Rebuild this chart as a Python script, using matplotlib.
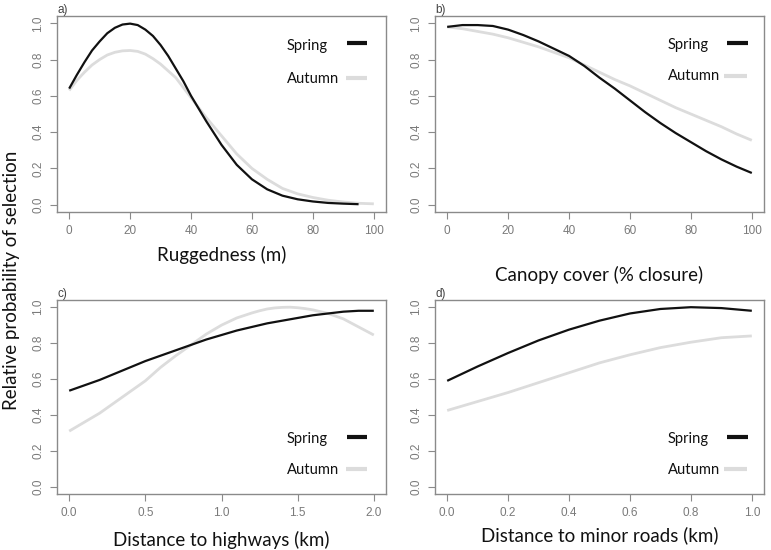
import matplotlib
matplotlib.use("Agg")
import matplotlib.pyplot as plt
from matplotlib.lines import Line2D

# ---------------- data ----------------
rug_x = [0, 2.5, 5, 7.5, 10, 12.5, 15, 17.5, 20, 22.5, 25, 27.5, 30, 32.5, 35, 37.5, 40,
         45, 50, 55, 60, 65, 70, 75, 80, 85, 90, 95]
rug_spring = [0.64, 0.715, 0.785, 0.85, 0.90, 0.945, 0.975, 0.993, 0.998, 0.99, 0.965, 0.93,
              0.88, 0.82, 0.75, 0.68, 0.60, 0.46, 0.33, 0.22, 0.14, 0.085, 0.05, 0.03,
              0.018, 0.01, 0.006, 0.003]
rug_x_aut = [0, 2.5, 5, 7.5, 10, 12.5, 15, 17.5, 20, 22.5, 25, 27.5, 30, 35, 40, 45, 50, 55,
             60, 65, 70, 75, 80, 85, 90, 95, 100]
rug_autumn = [0.63, 0.685, 0.73, 0.77, 0.80, 0.825, 0.84, 0.848, 0.85, 0.845, 0.83, 0.805,
              0.775, 0.70, 0.59, 0.48, 0.38, 0.28, 0.20, 0.14, 0.09, 0.06, 0.04, 0.025,
              0.015, 0.008, 0.005]

can_x = [0, 5, 10, 15, 20, 25, 30, 35, 40, 45, 50, 55, 60, 65, 70, 75, 80, 85, 90, 95, 100]
can_spring = [0.98, 0.99, 0.99, 0.985, 0.965, 0.935, 0.90, 0.86, 0.82, 0.765, 0.70, 0.64,
              0.575, 0.51, 0.45, 0.395, 0.345, 0.295, 0.25, 0.21, 0.175]
can_autumn = [0.98, 0.97, 0.955, 0.94, 0.92, 0.895, 0.87, 0.84, 0.81, 0.77, 0.73, 0.69,
              0.655, 0.615, 0.575, 0.535, 0.50, 0.465, 0.43, 0.39, 0.355]

hwy_x = [0.0, 0.1, 0.2, 0.3, 0.4, 0.5, 0.6, 0.7, 0.8, 0.9, 1.0, 1.1, 1.2, 1.3, 1.4, 1.5,
         1.6, 1.7, 1.8, 1.9, 2.0]
hwy_spring = [0.535, 0.565, 0.595, 0.63, 0.665, 0.70, 0.73, 0.76, 0.79, 0.82, 0.845, 0.87,
              0.89, 0.91, 0.925, 0.94, 0.955, 0.965, 0.975, 0.98, 0.98]
hwy_x_aut = [0.0, 0.1, 0.2, 0.3, 0.4, 0.5, 0.6, 0.7, 0.8, 0.9, 1.0, 1.1, 1.2, 1.25, 1.3,
             1.35, 1.4, 1.45, 1.5, 1.55, 1.6, 1.7, 1.8, 1.9, 2.0]
hwy_autumn = [0.31, 0.36, 0.41, 0.47, 0.53, 0.59, 0.665, 0.73, 0.79, 0.85, 0.90, 0.94,
              0.968, 0.98, 0.99, 0.996, 0.999, 1.0, 0.997, 0.992, 0.985, 0.965, 0.935,
              0.89, 0.845]

rd_x = [0.0, 0.1, 0.2, 0.3, 0.4, 0.5, 0.6, 0.7, 0.8, 0.9, 1.0]
rd_spring = [0.59, 0.67, 0.745, 0.815, 0.875, 0.925, 0.965, 0.99, 1.0, 0.995, 0.98]
rd_autumn = [0.425, 0.475, 0.525, 0.58, 0.635, 0.69, 0.735, 0.775, 0.805, 0.83, 0.84]

panel_labels = ["a)", "b)", "c)", "d)"]
xlabels = ["Ruggedness (m)", "Canopy cover (% closure)",
           "Distance to highways (km)", "Distance to minor roads (km)"]
xticks = [[0, 20, 40, 60, 80, 100], [0, 20, 40, 60, 80, 100],
          [0.0, 0.5, 1.0, 1.5, 2.0], [0.0, 0.2, 0.4, 0.6, 0.8, 1.0]]
xticklabels = [["0", "20", "40", "60", "80", "100"], ["0", "20", "40", "60", "80", "100"],
               ["0.0", "0.5", "1.0", "1.5", "2.0"], ["0.0", "0.2", "0.4", "0.6", "0.8", "1.0"]]
yticks = [0.0, 0.2, 0.4, 0.6, 0.8, 1.0]
yticklabels = ["0.0", "0.2", "0.4", "0.6", "0.8", "1.0"]
season_names = ["Spring", "Autumn"]

# ---------------- figure ----------------
W, H = 771, 550
fig = plt.figure(figsize=(W / 100, H / 100), dpi=100)

SPRING_C = "#111111"
AUTUMN_C = "#dcdcdc"
SPINE_C = "#8a8a8a"
TICK_C = "#7a7a7a"
FONT = ["Lato", "DejaVu Sans"]
TICKFONT = ["Liberation Sans", "DejaVu Sans"]


def px_axes(x0, y0, x1, y1):
    return fig.add_axes([x0 / W, 1 - y1 / H, (x1 - x0) / W, (y1 - y0) / H])


boxes = [(57, 16, 386, 212), (435, 16, 764, 212), (57, 300, 386, 494), (435, 300, 764, 494)]
series = [
    (rug_x, rug_spring, rug_x_aut, rug_autumn),
    (can_x, can_spring, can_x, can_autumn),
    (hwy_x, hwy_spring, hwy_x_aut, hwy_autumn),
    (rd_x, rd_spring, rd_x, rd_autumn),
]
xlims = [(-4, 104), (-4, 104), (-0.08, 2.08), (-0.04, 1.04)]
xlabel_off = [43, 63, 46, 41]
# legend layout in axes fraction: text x, (line x0, x1) for each entry, text baselines, line ys
leg_text_x = [0.699, 0.708, 0.699, 0.708]
leg_line_x = [[(0.881, 0.942), (0.878, 0.942)], [(0.888, 0.951), (0.878, 0.948)],
              [(0.881, 0.942), (0.878, 0.942)], [(0.888, 0.951), (0.878, 0.948)]]
leg_text_y = [(0.827, 0.658), (0.832, 0.673), (0.263, 0.103), (0.263, 0.103)]
leg_line_y = [(0.862, 0.684), (0.862, 0.694), (0.294, 0.129), (0.294, 0.129)]
leg_colors = [SPRING_C, AUTUMN_C]

for i, (box, (sx, sy, ax_, ay), xl) in enumerate(zip(boxes, series, xlims)):
    ax = px_axes(*box)
    ax.plot(ax_, ay, color=AUTUMN_C, lw=2.0, solid_capstyle="butt", zorder=2)
    ax.plot(sx, sy, color=SPRING_C, lw=1.6, solid_capstyle="butt", zorder=3)
    ax.set_xlim(*xl)
    ax.set_ylim(-0.04, 1.04)
    ax.set_xticks(xticks[i])
    ax.set_xticklabels(xticklabels[i], fontfamily=TICKFONT)
    ax.set_yticks(yticks)
    ax.set_yticklabels(yticklabels, rotation=90, va="center", fontfamily=TICKFONT)
    ax.tick_params(axis="both", direction="out", length=5, width=0.8, color=SPINE_C,
                   labelcolor=TICK_C, labelsize=8.5, pad=4)
    for s in ax.spines.values():
        s.set_color(SPINE_C)
        s.set_linewidth(1.0)
    ax.set_facecolor("white")
    # panel label
    ax.text(0.0, 1.0, panel_labels[i], transform=ax.transAxes, ha="left", va="bottom",
            fontsize=8.5, color="#444444", fontfamily=TICKFONT)
    # x label
    ax.set_xlabel(xlabels[i], fontsize=13.5, fontfamily=FONT, color="#111111")
    ax.xaxis.label.set_va("center")
    ax.xaxis.set_label_coords(0.5, -xlabel_off[i] / (box[3] - box[1]))
    # legend (left-aligned labels followed by line keys)
    for k, name in enumerate(season_names):
        ax.text(leg_text_x[i], leg_text_y[i][k], name, transform=ax.transAxes,
                ha="left", va="baseline", fontsize=10.6, fontfamily=FONT, color="#111111")
        x0, x1 = leg_line_x[i][k]
        ax.add_line(Line2D([x0, x1], [leg_line_y[i][k]] * 2, transform=ax.transAxes,
                           color=leg_colors[k], lw=3, solid_capstyle="butt"))

fig.text(12 / W, 1 - 280 / H, "Relative probability of selection", rotation=90,
         ha="center", va="center", fontsize=13.5, fontfamily=FONT, color="#111111")

fig.savefig("out.png", dpi=100, facecolor="white")
